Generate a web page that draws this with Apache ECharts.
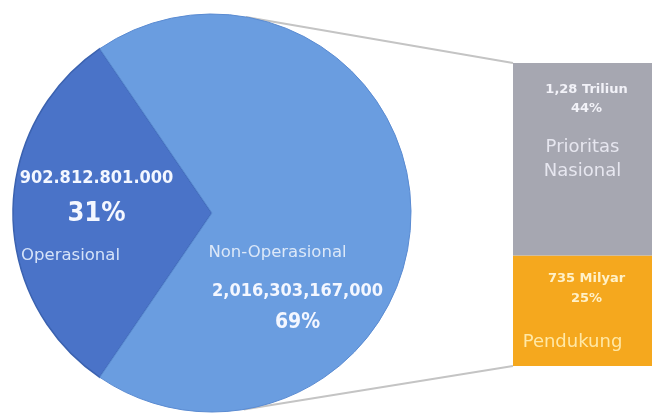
<!DOCTYPE html>
<html>
<head>
<meta charset="utf-8">
<script src="https://cdn.jsdelivr.net/npm/echarts@6/dist/echarts.min.js"></script>
<style>
html,body{margin:0;padding:0;background:#fff;}
#chart{width:655px;height:415px;}
</style>
</head>
<body>
<div id="chart"></div>
<script>
// ---- data ----
const pieNames = ['Operasional', 'Non-Operasional'];
const pieValues = [902812801000, 2016303167000];
const pieValueLabels = ['902.812.801.000', '2,016,303,167,000'];

const barNames = ['Pendukung', 'Prioritas Nasional'];
const barAmounts = [735, 1280];            // milyar
const barAmountLabels = ['735 Milyar', '1,28 Triliun'];
const barShares = ['25%', '44%'];

// ---- layout ----
const FONT = '"DejaVu Sans Condensed", "DejaVu Sans", sans-serif';
const FONT_N = '"DejaVu Sans", sans-serif';
const pieCenter = [212, 213], pieR = 199;
const grid = {left: 513, right: 3, top: 63, bottom: 49};
const W = 655, H = 415;
const labelShift = [{dx: -13, dy: 7}, {dx: -17, dy: 72}];

const total = pieValues.reduce((a, b) => a + b, 0);
const pct = v => Math.round(v / total * 100) + '%';
const startAngle = 180 + (pieValues[0] / total) * 360 / 2;
const barTotal = barAmounts.reduce((a, b) => a + b, 0);

const chart = echarts.init(document.getElementById('chart'), null, {renderer: 'canvas'});

const pieData = [
  {
    name: pieNames[0], value: pieValues[0],
    itemStyle: {color: '#4a73c8', borderColor: '#3b62b0', borderWidth: 1.5},
    label: {
      formatter: '{num|' + pieValueLabels[0] + '}\n{pct|' + pct(pieValues[0]) + '}\n{name|' + pieNames[0] + '}',
      rich: {
        num: {fontFamily: FONT, fontWeight: 'bold', fontSize: 18, color: '#f4f7ff', lineHeight: 30},
        pct: {fontFamily: FONT, fontWeight: 'bold', fontSize: 27, color: '#f4f7ff', lineHeight: 42},
        name: {fontFamily: FONT_N, fontSize: 16.5, color: '#d6e3f8', lineHeight: 42, padding: [0, 52, 0, 0]}
      }
    }
  },
  {
    name: pieNames[1], value: pieValues[1],
    itemStyle: {color: '#6a9de0', borderColor: '#5a8bd2', borderWidth: 1},
    label: {
      formatter: '{name|' + pieNames[1] + '}\n{num|' + pieValueLabels[1] + '}\n{pct|' + pct(pieValues[1]) + '}',
      rich: {
        name: {fontFamily: FONT_N, fontSize: 16.5, color: '#dce8f8', lineHeight: 40, padding: [0, 40, 0, 0]},
        num: {fontFamily: FONT, fontWeight: 'bold', fontSize: 18, color: '#f4f7ff', lineHeight: 36},
        pct: {fontFamily: FONT, fontWeight: 'bold', fontSize: 21, color: '#f4f7ff', lineHeight: 28}
      }
    }
  }
];

// tangent point from external point P to the pie circle
function tangentPoint(P, sign) {
  const dx = pieCenter[0] - P[0], dy = pieCenter[1] - P[1];
  const d = Math.hypot(dx, dy);
  const a = Math.atan2(dy, dx);
  const t = Math.asin(pieR / d);
  const L = Math.sqrt(d * d - pieR * pieR);
  const ang = a + sign * t;
  return [P[0] + L * Math.cos(ang), P[1] + L * Math.sin(ang)];
}
const barTL = [grid.left, grid.top];
const barBL = [grid.left, H - grid.bottom];
const tTop = tangentPoint(barTL, 1);
const tBot = tangentPoint(barBL, -1);

const smallStyle = (color, lh) => ({fontFamily: FONT_N, fontWeight: 'bold', fontSize: 13, color: color, lineHeight: lh, padding: [0, 0, 0, 8]});

const option = {
  backgroundColor: '#ffffff',
  animation: false,
  grid: {left: grid.left, right: grid.right, top: grid.top, bottom: grid.bottom, containLabel: false},
  xAxis: {type: 'category', data: ['x'], show: false},
  yAxis: {type: 'value', min: 0, max: barTotal, show: false},
  graphic: [
    {type: 'line', z: -1, shape: {x1: tTop[0], y1: tTop[1], x2: barTL[0], y2: barTL[1]},
     style: {stroke: '#c4c4c4', lineWidth: 2}},
    {type: 'line', z: -1, shape: {x1: tBot[0], y1: tBot[1], x2: barBL[0], y2: barBL[1]},
     style: {stroke: '#c4c4c4', lineWidth: 2}}
  ],
  series: [
    {
      type: 'pie',
      center: pieCenter,
      radius: [0, pieR],
      startAngle: startAngle,
      clockwise: true,
      silent: true,
      label: {show: true, position: 'inside'},
      labelLine: {show: false},
      labelLayout: function (params) { return labelShift[params.dataIndex]; },
      data: pieData
    },
    {
      type: 'bar', name: barNames[0], stack: 's', barWidth: '100%',
      data: [barAmounts[0]],
      itemStyle: {color: '#f5a81e'},
      label: {
        show: true, position: 'insideTop', distance: 13,
        formatter: '{a|' + barAmountLabels[0] + '}\n{b|' + barShares[0] + '}\n{gap| }\n{c|' + barNames[0] + '}',
        rich: {
          a: smallStyle('#fff1c8', 20),
          b: smallStyle('#fff1c8', 20),
          gap: {fontSize: 10, lineHeight: 22},
          c: {fontFamily: FONT_N, fontSize: 18, color: '#ffe8a6', lineHeight: 24, padding: [0, 20, 0, 0]}
        }
      }
    },
    {
      type: 'bar', name: barNames[1], stack: 's', barWidth: '100%',
      data: [barAmounts[1]],
      itemStyle: {color: '#a6a7b1'},
      label: {
        show: true, position: 'insideTop', distance: 17.5,
        formatter: '{a|' + barAmountLabels[1] + '}\n{b|' + barShares[1] + '}\n{gap| }\n{c|Prioritas}\n{c|Nasional}',
        rich: {
          a: smallStyle('#f2f2f8', 19),
          b: smallStyle('#f2f2f8', 19),
          gap: {fontSize: 10, lineHeight: 16.5},
          c: {fontFamily: FONT_N, fontSize: 18, color: '#e6e6ef', lineHeight: 24}
        }
      }
    }
  ]
};
chart.setOption(option);
</script>
</body>
</html>
